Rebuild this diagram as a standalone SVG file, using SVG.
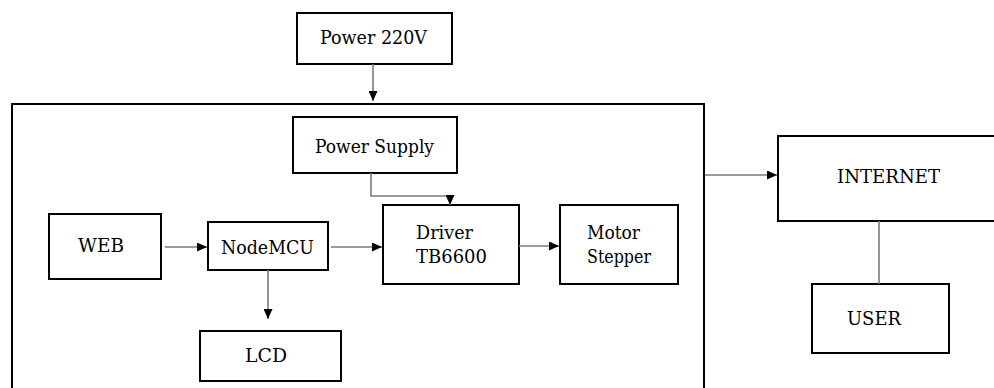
<svg xmlns="http://www.w3.org/2000/svg" width="994" height="388" viewBox="0 0 994 388">
<style>
.box{fill:#fff;stroke:#000;stroke-width:2}
.frame{fill:none;stroke:#000;stroke-width:2}
.c{fill:none;stroke:#7a7a7a;stroke-width:1.6}
text{font-family:"DejaVu Serif","Liberation Serif","Times New Roman",serif;font-size:19px;fill:#000}
</style>
<defs>
<marker id="ah" markerUnits="userSpaceOnUse" markerWidth="11" markerHeight="9" refX="10" refY="4.5" orient="auto">
<path d="M0,0 L10,4.5 L0,9 z" fill="#000"/>
</marker>
</defs>
<g id="system">
<path class="frame" d="M12,392 V104 H704 V392"/>
</g>
<g id="power220">
<rect class="box" x="297" y="13" width="155" height="51"/>
<text x="320" y="44" textLength="107" lengthAdjust="spacingAndGlyphs">Power 220V</text>
</g>
<g id="powersupply">
<rect class="box" x="293" y="117" width="164" height="56"/>
<text x="315" y="153" textLength="119" lengthAdjust="spacingAndGlyphs">Power Supply</text>
</g>
<g id="web">
<rect class="box" x="49" y="214" width="112" height="65"/>
<text x="78" y="252" textLength="46" lengthAdjust="spacingAndGlyphs">WEB</text>
</g>
<g id="nodemcu">
<rect class="box" x="208" y="222" width="120" height="48"/>
<text x="221" y="254" textLength="93" lengthAdjust="spacingAndGlyphs">NodeMCU</text>
</g>
<g id="driver">
<rect class="box" x="383" y="205" width="136" height="79"/>
<text x="416" y="239" textLength="57" lengthAdjust="spacingAndGlyphs">Driver</text>
<text x="416" y="263" textLength="71" lengthAdjust="spacingAndGlyphs">TB6600</text>
</g>
<g id="motor">
<rect class="box" x="560" y="205" width="118" height="79"/>
<text x="587" y="239" textLength="53" lengthAdjust="spacingAndGlyphs">Motor</text>
<text x="587" y="263" textLength="64" lengthAdjust="spacingAndGlyphs">Stepper</text>
</g>
<g id="lcd">
<rect class="box" x="200" y="331" width="141" height="50"/>
<text x="245" y="362" textLength="42" lengthAdjust="spacingAndGlyphs">LCD</text>
</g>
<g id="internet">
<rect class="box" x="778" y="136" width="220" height="85"/>
<text x="837" y="183" textLength="103" lengthAdjust="spacingAndGlyphs">INTERNET</text>
</g>
<g id="user">
<rect class="box" x="812" y="284" width="137" height="69"/>
<text x="847" y="325" textLength="54" lengthAdjust="spacingAndGlyphs">USER</text>
</g>
<g id="connectors">
<path class="c" d="M373,64 V101" marker-end="url(#ah)"/>
<path class="c" d="M371,173 V196 H450 V205" marker-end="url(#ah)"/>
<path class="c" d="M165,247 H207" marker-end="url(#ah)"/>
<path class="c" d="M331,247 H382" marker-end="url(#ah)"/>
<path class="c" d="M519,246 H559" marker-end="url(#ah)"/>
<path class="c" d="M268,270 V319" marker-end="url(#ah)"/>
<path class="c" d="M705,175 H777" marker-end="url(#ah)"/>
<path class="c" d="M879,221 V284"/>
</g>
</svg>
